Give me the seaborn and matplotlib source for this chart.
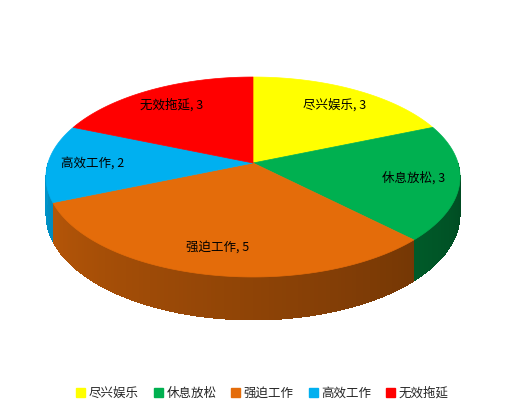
import numpy as np
import matplotlib
matplotlib.use("Agg")
import matplotlib.pyplot as plt
import seaborn as sns
from matplotlib.patches import Polygon, Patch

# data
categories = ['尽兴娱乐', '休息放松', '强迫工作', '高效工作', '无效拖延']
values = [3, 3, 5, 2, 3]
colors = ['#FFFF00', '#00B050', '#E46C0A', '#00B0F0', '#FF0000']

sns.set_theme(style='white')
plt.rcParams['font.family'] = ['Noto Sans CJK SC', 'DejaVu Sans']

# perspective geometry (pixel units)
CX, CY = 253, 163
R = 205
C = 0.14
A = -75.2
DEPTH = 37


def project(theta, r=1.0):
    # theta in degrees, clockwise from 12 o'clock
    t = np.radians(theta)
    u = r * np.sin(t)
    v = r * np.cos(t)
    s = 1 + C * v
    return CX + R * u / s, (A * v + CY) / s, s


def shade(theta):
    return 0.4 + 0.45 * (theta - 90) / 180


fig = plt.figure(figsize=(5.25, 4.16), dpi=100)
ax = fig.add_axes([0, 0, 1, 1])
ax.set_xlim(0, 525)
ax.set_ylim(416, 0)
ax.axis('off')

total = sum(values)
bounds = np.concatenate([[0], np.cumsum(values) / total * 360])

# side walls (front half only), drawn as overlapping strips for a smooth gradient
for i, col in enumerate(colors):
    lo, hi = max(bounds[i], 90), min(bounds[i + 1], 270)
    if hi <= lo:
        continue
    rgb = np.array(matplotlib.colors.to_rgb(col))
    steps = np.linspace(lo, hi, max(int(hi - lo), 2) + 1)
    for t0, t1 in zip(steps[:-1], steps[1:]):
        t1e = min(t1 + 1.0, hi)
        x0, y0, s0 = project(t0)
        x1, y1, s1 = project(t1e)
        quad = [(x0, y0), (x1, y1), (x1, y1 + DEPTH / s1), (x0, y0 + DEPTH / s0)]
        c = np.clip(rgb * shade((t0 + t1) / 2), 0, 1)
        ax.add_patch(Polygon(quad, closed=True, facecolor=c, lw=0, antialiased=False))

# top faces
cx0, cy0, _ = project(0, 0)
for i, col in enumerate(colors):
    ts = np.linspace(bounds[i], bounds[i + 1], 120)
    pts = [(cx0, cy0)] + [project(t)[:2] for t in ts]
    ax.add_patch(Polygon(pts, closed=True, facecolor=col, edgecolor=col, lw=0.5))

# labels
for i, (cat, val) in enumerate(zip(categories, values)):
    mid = (bounds[i] + bounds[i + 1]) / 2
    lx, ly, _ = project(mid, 0.78)
    ax.text(lx, ly, f'{cat}, {val}', ha='center', va='center', fontsize=9, color='black')

handles = [Patch(facecolor=c, edgecolor=c) for c in colors]
fig.legend(handles, categories, loc='center', bbox_to_anchor=(0.5, 1 - 393 / 416),
           ncol=5, frameon=False, fontsize=9, handlelength=0.7, handleheight=0.7,
           handletextpad=0.3, columnspacing=1.2)

fig.savefig('out.png', dpi=100, facecolor='white')
